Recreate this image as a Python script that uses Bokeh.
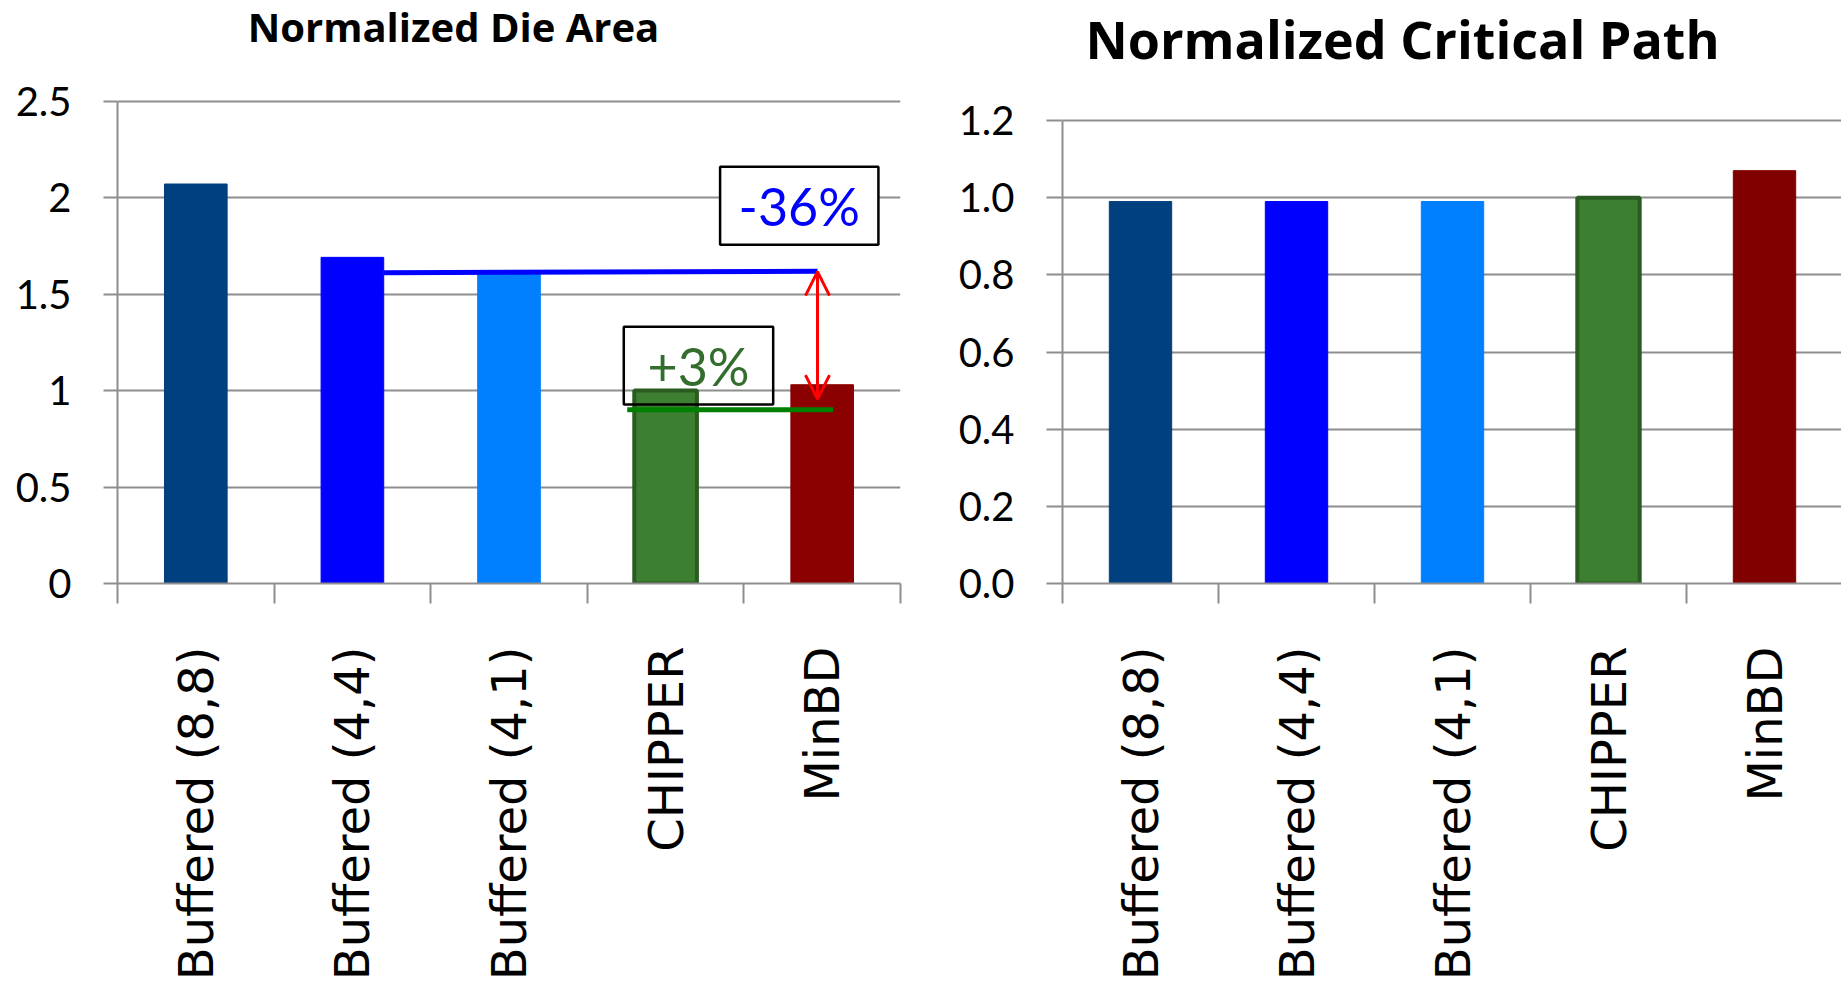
import math
from bokeh.plotting import figure
from bokeh.layouts import row
from bokeh.models import (Range1d, LinearAxis, FixedTicker, Label, Arrow, OpenHead,
                          ColumnDataSource, Grid)
from bokeh.core.properties import value
from bokeh.embed import file_html
from bokeh.resources import INLINE

# ---------------- data ----------------
categories = ["Buffered (8,8)", "Buffered (4,4)", "Buffered (4,1)", "CHIPPER", "MinBD"]
die_area = [2.07, 1.69, 1.61, 1.00, 1.03]
critical_path = [0.99, 0.99, 0.99, 1.00, 1.07]

area_ticks = [0, 0.5, 1, 1.5, 2, 2.5]
area_tick_labels = ["0", "0.5", "1", "1.5", "2", "2.5"]
path_ticks = [0.0, 0.2, 0.4, 0.6, 0.8, 1.0, 1.2]
path_tick_labels = ["0.0", "0.2", "0.4", "0.6", "0.8", "1.0", "1.2"]

area_title = "Normalized Die Area"
path_title = "Normalized Critical Path"

reduction_text = "-36%"     # MinBD vs Buffered (4,1)
overhead_text = "+3%"       # MinBD vs CHIPPER
overhead_marker_level = 0.90
arrow_low_level = 0.955

# ---------------- styles ----------------
area_colors = ["#00407F", "#0000FF", "#0080FF", "#3C7F31", "#8B0000"]
path_colors = ["#00407F", "#0000FF", "#0080FF", "#3C7F31", "#800000"]
CHIPPER_BORDER = "#2A5C22"
GRID = "#8E8E8E"
TICK_FONT = "Lato"
CAT_FONT = "DejaVu Sans"
TITLE_FONT = "Open Sans"

centers = [i + 0.5 for i in range(len(categories))]
boundaries = [float(i) for i in range(len(categories) + 1)]


def make_chart(values, colors, ticks, tick_labels, yaxis_max, yview_max, xend, width, height,
               mb_left, mb_right, mb_bottom, tick_out):
    p = figure(width=width, height=height, x_range=Range1d(0, xend),
               y_range=Range1d(0, yview_max),
               output_backend="svg", toolbar_location=None, x_axis_location=None,
               y_axis_location="left", min_border_left=mb_left, min_border_right=mb_right,
               min_border_top=0, min_border_bottom=mb_bottom)
    p.outline_line_color = None
    p.background_fill_color = "white"
    p.border_fill_color = "white"

    for g in list(p.center):
        if isinstance(g, Grid) and g.dimension == 0:
            g.visible = False

    yax = p.yaxis[0]
    yax.bounds = (0, yaxis_max)
    yax.ticker = FixedTicker(ticks=ticks)
    yax.major_label_overrides = dict(zip(ticks, tick_labels))
    yax.axis_line_color = GRID
    yax.axis_line_width = 2
    yax.major_tick_line_color = GRID
    yax.major_tick_line_width = 2
    yax.major_tick_in = 0
    yax.major_tick_out = tick_out
    yax.minor_tick_line_color = None
    yax.major_label_standoff = 32
    yax.major_label_text_font = TICK_FONT
    yax.major_label_text_font_size = "40px"
    yax.major_label_text_color = "black"

    p.ygrid.ticker = FixedTicker(ticks=ticks)
    p.ygrid.grid_line_color = GRID
    p.ygrid.grid_line_width = 2

    # category boundary ticks (Excel style)
    bax = LinearAxis(ticker=FixedTicker(ticks=boundaries),
                     major_label_overrides={b: "" for b in boundaries},
                     major_label_text_font_size="1px", major_label_standoff=0,
                     axis_line_color=GRID, axis_line_width=2,
                     major_tick_line_color=GRID, major_tick_line_width=2,
                     major_tick_in=0, major_tick_out=20, minor_tick_line_color=None)
    p.add_layout(bax, "below")

    # category labels, reading bottom to top
    lax = LinearAxis(ticker=FixedTicker(ticks=centers),
                     major_label_overrides=dict(zip(centers, categories)),
                     axis_line_color=None, major_tick_line_color=None,
                     major_tick_in=0, major_tick_out=0, minor_tick_line_color=None,
                     major_label_orientation=math.pi / 2, major_label_standoff=43,
                     major_label_text_font=CAT_FONT, major_label_text_font_size="48px",
                     major_label_text_color="black")
    p.add_layout(lax, "below")

    line_colors = [CHIPPER_BORDER if c == "CHIPPER" else col for c, col in zip(categories, colors)]
    line_widths = [4 if c == "CHIPPER" else 1 for c in categories]
    src = ColumnDataSource(dict(x=centers, top=values, fill=colors, lc=line_colors, lw=line_widths))
    p.vbar(x="x", top="top", bottom=0, width=0.4, fill_color="fill", line_color="lc",
           line_width="lw", source=src)
    return p


# ---------------- left chart ----------------
# frame spans the full height above the axis; 2.5 sits 483 px above the baseline
p1 = make_chart(die_area, area_colors, area_ticks, area_tick_labels, 2.5, 2.5 * 584 / 483.3, 5.0,
                930, 992, 117, 30, 408, 14)

i44 = categories.index("Buffered (4,4)")
i41 = categories.index("Buffered (4,1)")
ich = categories.index("CHIPPER")
imb = categories.index("MinBD")

x_arrow = centers[imb] - 0.03
# green reference line
p1.segment(x0=[centers[ich] - 0.245], x1=[centers[imb] + 0.07],
           y0=[overhead_marker_level], y1=[overhead_marker_level],
           line_color="#008000", line_width=5)
# blue reference line at Buffered (4,1) level
p1.segment(x0=[centers[i44] + 0.2], x1=[x_arrow],
           y0=[die_area[i41]], y1=[die_area[i41] + 0.008],
           line_color="#0000FF", line_width=5)

# annotation boxes
box36 = dict(left=centers[imb] - 0.652, right=centers[imb] + 0.359, top=2.159, bottom=1.755)
box3 = dict(left=centers[ich] - 0.267, right=centers[imb] - 0.313, top=1.331, bottom=0.928)
p1.quad(left=[box36["left"]], right=[box36["right"]], top=[box36["top"]], bottom=[box36["bottom"]],
        fill_color="white", line_color="black", line_width=2.5)
p1.quad(left=[box3["left"]], right=[box3["right"]], top=[box3["top"]], bottom=[box3["bottom"]],
        fill_color=None, line_color="black", line_width=2.5)
p1.text(x=[(box36["left"] + box36["right"]) / 2], y=[(box36["top"] + box36["bottom"]) / 2],
        text=[reduction_text], text_font=value(TICK_FONT), text_font_size="52px",
        text_align="center", text_baseline="middle", text_color="#0000FF")
p1.text(x=[(box3["left"] + box3["right"]) / 2], y=[(box3["top"] + box3["bottom"]) / 2],
        text=[overhead_text], text_font=value(TICK_FONT), text_font_size="52px",
        text_align="center", text_baseline="middle", text_color="#336E2E")

arrow = Arrow(x_start=x_arrow, y_start=die_area[i41] + 0.006, x_end=x_arrow, y_end=arrow_low_level,
              start=OpenHead(size=24, line_color="#FF0000", line_width=3),
              end=OpenHead(size=24, line_color="#FF0000", line_width=3),
              line_color="#FF0000", line_width=3)
p1.add_layout(arrow)

p1.add_layout(Label(x=336, y=557, x_units="screen", y_units="screen", text=area_title,
                    text_font=TITLE_FONT, text_font_style="bold", text_font_size="40px",
                    text_align="center", text_baseline="middle", text_color="black"))

# ---------------- right chart ----------------
p2 = make_chart(critical_path, path_colors, path_ticks, path_tick_labels, 1.2, 1.2 * 583 / 463.0,
                779 / 156.0, 911, 992, 132, 0, 409, 16)
p2.add_layout(Label(x=340, y=545, x_units="screen", y_units="screen", text=path_title,
                    text_font=TITLE_FONT, text_font_style="bold", text_font_size="52px",
                    text_align="center", text_baseline="middle", text_color="black"))

layout = row(p1, p2)
open("out.html", "w").write(file_html(layout, INLINE))
